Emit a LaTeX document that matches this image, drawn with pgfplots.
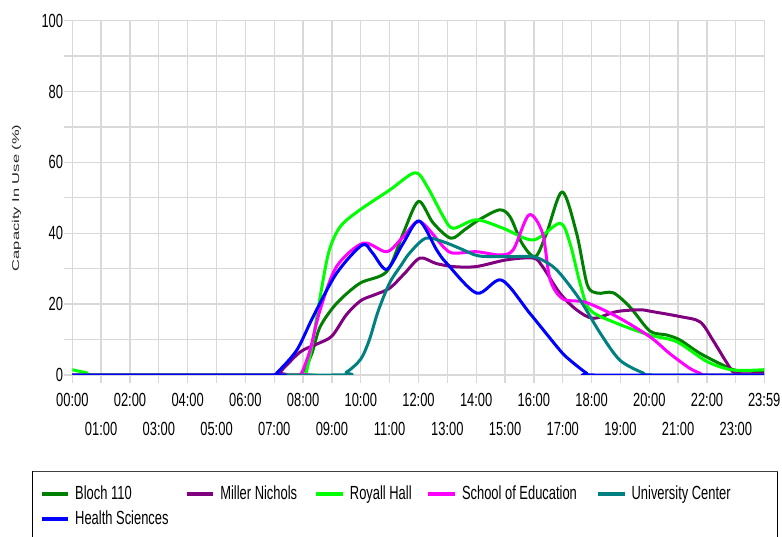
\documentclass[border=0pt]{standalone}
\usepackage{pgfplots}
\pgfplotsset{compat=1.18}
\usepackage{fontspec}
\setmainfont{Liberation Sans}[FakeStretch=0.68]
\newfontfamily\plainfont{Liberation Sans}
\definecolor{gridc}{HTML}{D9D9D9}
\definecolor{cbloch}{HTML}{008000}
\definecolor{cmiller}{HTML}{800080}
\definecolor{croyall}{HTML}{00FF00}
\definecolor{cschool}{HTML}{FF00FF}
\definecolor{cuc}{HTML}{008080}
\definecolor{chealth}{HTML}{0000FF}
\begin{document}
\begin{tikzpicture}
\path[use as bounding box] (0,0) rectangle (782bp,537bp);
\clip (0,0) rectangle (782bp,537bp);
\begin{axis}[
  scale only axis,
  width=691.9bp, height=354.3bp,
  at={(72.3bp,162bp)}, anchor=south west,
  xmin=0, xmax=23.9833, ymin=0, ymax=100,
  axis line style={draw=gridc, line width=1.3bp},
  tick style={draw=gridc, line width=1.3bp},
  major tick length=8bp,
  tick align=outside,
  xtick pos=bottom, ytick pos=left,
  grid=major,
  major grid style={draw=gridc, line width=1.3bp},
  xtick={0,2,4,6,8,10,12,14,16,18,20,22,23.9833},
  xticklabels={00:00,02:00,04:00,06:00,08:00,10:00,12:00,14:00,16:00,18:00,20:00,22:00,23:59},
  extra x ticks={1,3,5,7,9,11,13,15,17,19,21,23},
  extra x tick labels={01:00,03:00,05:00,07:00,09:00,11:00,13:00,15:00,17:00,19:00,21:00,23:00},
  extra x tick style={grid=major, tick label style={yshift=-29bp}},
  ytick={0,10,20,30,40,50,60,70,80,90,100},
  yticklabels={0,,20,,40,,60,,80,,100},
  /pgf/number format/assume math mode=true,
  ticklabel style={font=\fontsize{19bp}{22bp}\selectfont, text=black},
  xticklabel style={inner sep=0pt, anchor=north, yshift=-10bp},
  yticklabel style={inner sep=0pt, anchor=east, xshift=-1bp},
  ylabel={\scalebox{1}[0.6]{\fontsize{16.5bp}{18bp}\plainfont Capacity In Use (\%)}},
  ylabel style={at={(axis description cs:-0.0806,0.5)}, anchor=center, text=black!85},
  every axis plot/.append style={line width=3bp, smooth, line join=round},
  legend columns=5,
  legend style={draw=none, fill=none, inner xsep=0pt, inner ysep=0pt,
    at={(axis description cs:-0.0475,-0.3105)}, anchor=north west,
    font=\fontsize{19bp}{22bp}\selectfont,
    nodes={inner sep=0pt, text height=14bp, text depth=4bp, anchor=base west},
    column sep=0pt, row sep=7bp},
  legend image code/.code={\draw[line width=4bp] (0bp,5bp) -- (26.6bp,5bp);},
]
\addplot[cbloch] coordinates {(0,0) (7.5,0) (7.95,0.5) (8.3,6) (8.59,13.6) (9.16,20.2) (9.97,25.9) (10.9,29.2) (11.47,40) (12.0,49) (12.5,43) (13.12,38.6) (13.6,41) (14.1,43.8) (14.8,46.6) (15.17,44.7) (15.6,37) (16.05,33.4) (16.44,40) (16.98,51.7) (17.48,40) (17.85,25.5) (18.2,23.1) (18.75,23.2) (19.35,19) (20.02,12.4) (20.6,11.3) (21.06,9.9) (21.76,6.1) (22.68,2.3) (23.1,1.2) (23.9833,1.2)};
\addlegendentry{\hspace*{5bp}\makebox[109.5bp][l]{Bloch 110}}
\addplot[cmiller] coordinates {(0,0) (7.0,0) (7.2,0.9) (7.9,6.5) (8.5,8.8) (9.0,11) (9.5,17) (10.0,21) (10.5,22.7) (11.0,24.5) (11.5,28.5) (12.05,33) (12.6,31.5) (13.2,30.6) (14,30.6) (15.05,32.5) (15.98,33) (16.3,30.6) (16.9,23.1) (17.48,18.4) (18.06,16) (18.87,17.9) (19.68,18.4) (20.1,17.9) (21.06,16.5) (21.76,15) (22.2,9.9) (22.7,3.3) (23.0,0.5) (23.9833,0.5)};
\addlegendentry{\hspace*{5bp}\makebox[94bp][l]{Miller Nichols}}
\addplot[croyall] coordinates {(0,1.5) (0.5,0.6) (1.0,0) (8.0,0) (8.1,0.5) (8.3,8) (8.59,22) (8.9,35) (9.3,42) (9.97,46.6) (11.0,52.2) (11.88,57.1) (12.3,53.2) (12.86,44.7) (13.2,41.4) (14.0,43.8) (14.94,41.4) (15.98,38.1) (16.9,42.8) (17.25,37.2) (17.6,25.9) (17.94,18.4) (18.87,14.6) (20.0,11.3) (20.95,9.4) (22.0,3.8) (22.9,1.4) (23.9833,1.5)};
\addlegendentry{\hspace*{5bp}\makebox[76.5bp][l]{Royall Hall}}
\addplot[cschool] coordinates {(0,0) (7.8,0) (7.95,0.6) (8.24,7) (8.59,18.4) (9.16,30.6) (10.08,37.2) (10.9,34.8) (11.47,39) (12.05,43.3) (12.86,36.2) (13.2,34.4) (14,34.8) (14.8,33.9) (15.28,35.3) (15.83,45.2) (16.3,40) (16.56,27) (17.0,21.5) (17.8,20.5) (18.87,16.5) (20.02,10.8) (20.7,6.1) (21.4,1.9) (21.76,0.5) (22.0,0) (23.9833,0)};
\addlegendentry{\hspace*{5bp}\makebox[134bp][l]{School of Education}}
\addplot[cuc] coordinates {(0,0) (9.0,0) (9.5,0.8) (10.0,4.5) (10.3,10) (10.6,18) (11.0,26) (11.4,31) (11.7,34.5) (12.25,38.6) (12.86,37.6) (13.5,35.5) (14.1,33.6) (15.17,33.4) (15.98,33.4) (16.5,31.5) (16.9,28.7) (17.6,21.2) (18.3,11.8) (18.98,4.2) (19.8,0.5) (20.1,0) (23.9833,0)};
\addlegendentry{\hspace*{5bp}University Center}
\addplot[chealth] coordinates {(0,0) (6.95,0) (7.08,0.5) (7.78,7) (8.35,16.5) (9.16,28.7) (10.05,36.7) (10.4,34.5) (10.9,29.8) (11.47,37.2) (12.02,43.5) (12.63,35.3) (12.98,31.5) (14.02,23.1) (14.88,26.8) (15.86,17.4) (16.9,7) (17.25,4.2) (17.83,0.5) (18.1,0) (23.9833,0)};
\addlegendentry{\hspace*{5bp}\makebox[109.5bp][l]{Health Sciences}}
\end{axis}
\draw[black, line width=1bp] (32.7bp,-10bp) -- (32.7bp,65.3bp) -- (777.5bp,65.3bp) -- (777.5bp,-10bp);
\draw[black!75, line width=1.2bp] (32.7bp,65.6bp) -- (777.5bp,65.6bp);
\end{tikzpicture}
\end{document}
